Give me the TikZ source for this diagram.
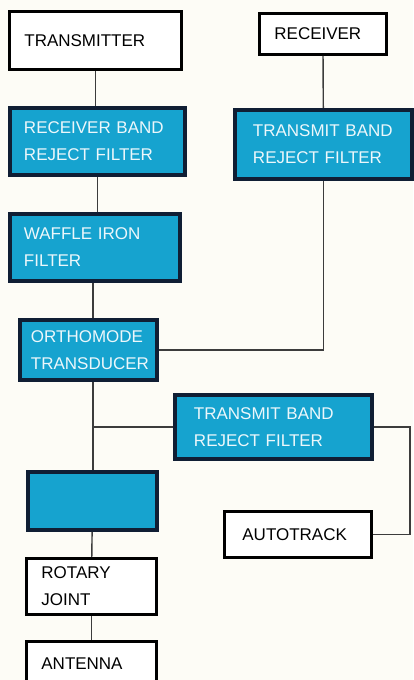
\documentclass[tikz,border=0pt]{standalone}
\usepackage{fontspec}
\setmainfont{Liberation Sans}
\usetikzlibrary{positioning}
\definecolor{panel}{RGB}{22,163,207}
\definecolor{navy}{RGB}{16,30,52}
\definecolor{paper}{RGB}{253,252,246}
\definecolor{linegray}{RGB}{60,60,60}
\definecolor{pale}{RGB}{236,247,251}

\begin{document}
\begin{tikzpicture}[x=0.03cm, y=-0.03cm,
    font=\fontsize{14.5}{23}\selectfont,
    plainbox/.style={draw=black, line width=2.4pt, fill=white, anchor=north west,
      align=left, inner xsep=0.45cm, inner ysep=0pt},
    filterbox/.style={draw=navy, line width=3.4pt, fill=panel, text=pale, anchor=north west,
      align=left, inner xsep=0.45cm, inner ysep=0pt},
    link/.style={draw=linegray, line width=1.2pt}]
  \useasboundingbox[fill=paper] (0,0) rectangle (413,680);

  % left chain
  \node[plainbox, minimum width=5.16cm, minimum height=1.74cm, text width=4.26cm]
    (tx) at (8,10) {TRANSMITTER};
  \node[filterbox, minimum width=5.25cm, minimum height=2.01cm, text width=4.41cm,
    inner xsep=0.42cm] (rxreject) at (8,106) {RECEIVER BAND\\REJECT FILTER};
  \node[filterbox, minimum width=5.10cm, minimum height=2.01cm, text width=4.26cm,
    inner xsep=0.42cm] (waffle) at (8,212) {WAFFLE IRON\\FILTER};
  \node[filterbox, minimum width=4.11cm, minimum height=1.80cm, text width=3.45cm,
    inner xsep=0.33cm] (omt) at (18,318) {ORTHOMODE\\TRANSDUCER};
  \node[filterbox, minimum width=3.87cm, minimum height=1.74cm, text width=2.97cm]
    (unit) at (26,470) {};
  \node[plainbox, minimum width=3.90cm, minimum height=1.68cm, text width=3.00cm]
    (rotary) at (25,557) {ROTARY\\JOINT};
  \node[plainbox, minimum width=3.90cm, minimum height=1.32cm, text width=3.00cm]
    (antenna) at (25,640) {ANTENNA};

  % right side
  \node[plainbox, minimum width=3.81cm, minimum height=1.23cm, text width=2.91cm]
    (rx) at (258,12) {RECEIVER};
  \node[filterbox, minimum width=5.31cm, minimum height=2.07cm, text width=4.23cm,
    inner xsep=0.54cm] (txreject) at (233,108) {TRANSMIT BAND\\REJECT FILTER};
  \node[filterbox, minimum width=5.91cm, minimum height=1.92cm, text width=4.77cm,
    inner xsep=0.57cm] (trackreject) at (173,393) {TRANSMIT BAND\\REJECT FILTER};
  \node[plainbox, minimum width=4.41cm, minimum height=1.38cm, text width=3.33cm,
    inner xsep=0.54cm] (autotrack) at (223,510) {AUTOTRACK};

  \coordinate (spine) at (93,0);
  \coordinate (rim) at (410,0);

  \draw[link] (tx.south) -- (tx.south |- rxreject.north);
  \draw[link] (rxreject.south) -- (rxreject.south |- waffle.north);
  \draw[link] (spine |- waffle.south) -- (spine |- omt.north);
  \draw[link] (rx) -- (txreject);
  \draw[link] (txreject.south) |- (omt.east);
  \draw[link] (spine |- omt.south) -- (spine |- unit.north);
  \draw[link] (spine |- trackreject.west) -- (trackreject.west);
  \draw[link] (trackreject.east) -- (rim |- trackreject.east) -- (rim |- autotrack.east)
    -- (autotrack.east);
  \draw[link] (unit) -- (rotary);
  \draw[link] (rotary) -- (antenna);
\end{tikzpicture}
\end{document}
